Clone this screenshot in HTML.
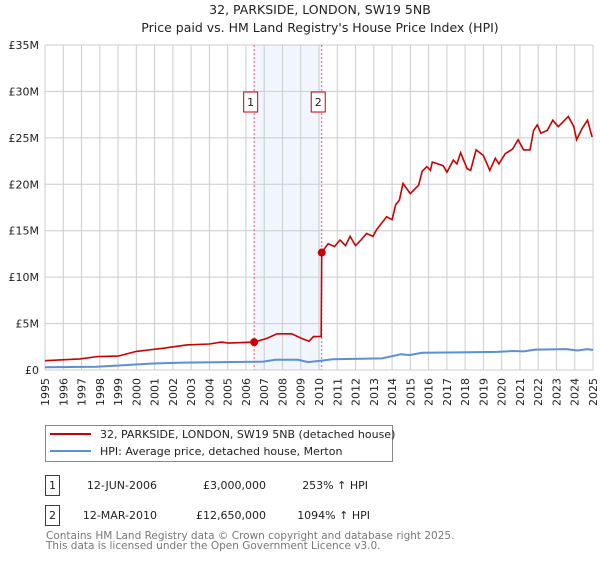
<!DOCTYPE html>
<html><head><meta charset="utf-8"><style>
body{margin:0;background:#fff;font-family:"Liberation Sans","DejaVu Sans",sans-serif;}
svg text{font-family:"DejaVu Sans","Liberation Sans",sans-serif;}
</style></head><body>
<svg id="chart" width="600" height="560" viewBox="0 0 600 560" xmlns="http://www.w3.org/2000/svg">
<text x="320" y="14" font-size="12.5" text-anchor="middle" fill="#222">32, PARKSIDE, LONDON, SW19 5NB</text>
<text x="320" y="32" font-size="12.5" text-anchor="middle" fill="#222">Price paid vs. HM Land Registry's House Price Index (HPI)</text>
<g id="plot"></g>
<g>
<rect x="45.5" y="425.5" width="347" height="36" fill="#fff" stroke="#888"/>
<line x1="50" y1="434" x2="91" y2="434" stroke="#cc0000" stroke-width="2"/>
<text x="100" y="438" font-size="11" fill="#222">32, PARKSIDE, LONDON, SW19 5NB (detached house)</text>
<line x1="50" y1="451" x2="91" y2="451" stroke="#5b8fd6" stroke-width="2"/>
<text x="100" y="455" font-size="11" fill="#222">HPI: Average price, detached house, Merton</text>
</g>
<g font-size="11" fill="#222">
<rect x="45.5" y="475.5" width="14" height="20" fill="#fff" stroke="#cc0000"/>
<text x="52.5" y="489" text-anchor="middle">1</text>
<text x="157" y="489" text-anchor="end">12-JUN-2006</text>
<text x="266" y="489" text-anchor="end">£3,000,000</text>
<text x="368" y="489" text-anchor="end">253% ↑ HPI</text>
</g>
<g font-size="11" fill="#222">
<rect x="45.5" y="505.5" width="14" height="20" fill="#fff" stroke="#cc0000"/>
<text x="52.5" y="519" text-anchor="middle">2</text>
<text x="157" y="519" text-anchor="end">12-MAR-2010</text>
<text x="266" y="519" text-anchor="end">£12,650,000</text>
<text x="370" y="519" text-anchor="end">1094% ↑ HPI</text>
</g>
<text x="46" y="539" font-size="10.5" fill="#777">Contains HM Land Registry data © Crown copyright and database right 2025.</text>
<text x="46" y="549" font-size="10.5" fill="#777">This data is licensed under the Open Government Licence v3.0.</text>
</svg>
<script>
const yTicks=[0,5,10,15,20,25,30,35];
const yTickLabels=["£0","£5M","£10M","£15M","£20M","£25M","£30M","£35M"];
const xYears=[1995,1996,1997,1998,1999,2000,2001,2002,2003,2004,2005,2006,2007,2008,2009,2010,2011,2012,2013,2014,2015,2016,2017,2018,2019,2020,2021,2022,2023,2024,2025];
const redDates=[1995,1996.9,1997.9,1999,2000,2000.65,2001.5,2002.75,2004,2004.65,2005.05,2006.45,2007.15,2007.7,2008.5,2009.05,2009.45,2009.7,2010.12,2010.15,2010.5,2010.85,2011.15,2011.45,2011.7,2012,2012.3,2012.6,2012.95,2013.15,2013.7,2014,2014.2,2014.4,2014.6,2015,2015.45,2015.65,2015.9,2016.1,2016.2,2016.8,2017,2017.35,2017.55,2017.75,2018.1,2018.3,2018.6,2019,2019.35,2019.65,2019.85,2020.2,2020.6,2020.9,2021.2,2021.55,2021.75,2021.95,2022.15,2022.5,2022.8,2023.1,2023.65,2023.95,2024.1,2024.4,2024.7,2024.95];
const redValues=[1.0,1.2,1.45,1.5,2.0,2.15,2.35,2.7,2.8,3.0,2.9,3.0,3.4,3.9,3.9,3.4,3.1,3.6,3.6,12.65,13.6,13.3,14.0,13.4,14.4,13.4,14.0,14.7,14.4,15.1,16.5,16.2,17.8,18.3,20.1,19.0,19.9,21.4,21.9,21.5,22.4,22.0,21.3,22.6,22.2,23.4,21.7,21.5,23.7,23.1,21.5,22.8,22.2,23.3,23.8,24.8,23.7,23.7,25.8,26.4,25.5,25.8,26.9,26.2,27.3,26.2,24.8,26.0,26.9,25.1];
const hpiDates=[1995,1997.8,1999.6,2000.9,2002.55,2004.85,2006.95,2007.6,2008.85,2009.4,2010.1,2010.75,2013.45,2014.5,2014.95,2015.65,2017.65,2019.75,2020.6,2021.2,2021.85,2023.55,2024.15,2024.7,2025];
const hpiValues=[0.3,0.35,0.55,0.7,0.8,0.85,0.9,1.1,1.1,0.85,1.0,1.15,1.25,1.7,1.6,1.85,1.9,1.95,2.05,2.0,2.2,2.25,2.1,2.25,2.15];
const saleDates=[2006.45,2010.15];
const saleValues=[3.0,12.65];
const saleLabels=["1","2"];
const X0=45,X1=593,Y0=370,Y1=45;
function xs(t){return X0+(t-1995)/(2025-1995)*(X1-X0);}
function ys(v){return Y0-v/35*(Y0-Y1);}
const NS="http://www.w3.org/2000/svg";
const g=document.getElementById('plot');
function mk(tag,attrs,parent){const e=document.createElementNS(NS,tag);for(const k in attrs)e.setAttribute(k,attrs[k]);(parent||g).appendChild(e);return e;}
const shade=mk('rect',{x:xs(saleDates[0]),y:Y1,width:xs(saleDates[1])-xs(saleDates[0]),height:Y0-Y1,fill:'#eef3fc',opacity:0.8});


xYears.forEach(yr=>{
 const l=mk('line',{x1:xs(yr),x2:xs(yr),y1:Y1,y2:Y0,stroke:'#cccccc','stroke-width':1});
 
 
 const t=mk('text',{x:0,y:0,'font-size':11,fill:'#222','text-anchor':'end',transform:`translate(${xs(yr)+4},${Y0+8}) rotate(-90)`});
 t.textContent=yr;
 
 
});
yTicks.forEach((v,i)=>{
 const l=mk('line',{x1:X0,x2:X1,y1:ys(v),y2:ys(v),stroke:'#cccccc','stroke-width':1});
 
 
 const t=mk('text',{x:X0-6,y:ys(v)+4,'font-size':11,fill:'#222','text-anchor':'end'});
 t.textContent=yTickLabels[i];
 
 
});
saleDates.forEach((d,i)=>{
 const l=mk('line',{x1:xs(d),x2:xs(d),y1:Y1,y2:Y0,stroke:'#ee5566','stroke-width':1,'stroke-dasharray':'2,2'});
 
 
});
function pts(ds,vs){return ds.map((d,i)=>xs(d).toFixed(1)+','+ys(vs[i]).toFixed(1)).join(' ');}
const hpi=mk('polyline',{points:pts(hpiDates,hpiValues),fill:'none',stroke:'#5b8fd6','stroke-width':2});


const red=mk('polyline',{points:pts(redDates,redValues),fill:'none',stroke:'#cc0000','stroke-width':1.6});


saleDates.forEach((d,i)=>{
 const c=mk('circle',{cx:xs(d),cy:ys(saleValues[i]),r:4,fill:'#cc0000'});
 
 
 const r=mk('rect',{x:xs(d)-10.5,y:92,width:14,height:20,fill:'#fff',stroke:'#cc0000'});
 
 
 const t=mk('text',{x:xs(d)-3.5,y:106,'font-size':11,fill:'#222','text-anchor':'middle'});
 t.textContent=saleLabels[i];
 
 
});
const ax=mk('line',{x1:X0,x2:X1,y1:Y0,y2:Y0,stroke:'#cccccc'});


</script>
</body></html>
